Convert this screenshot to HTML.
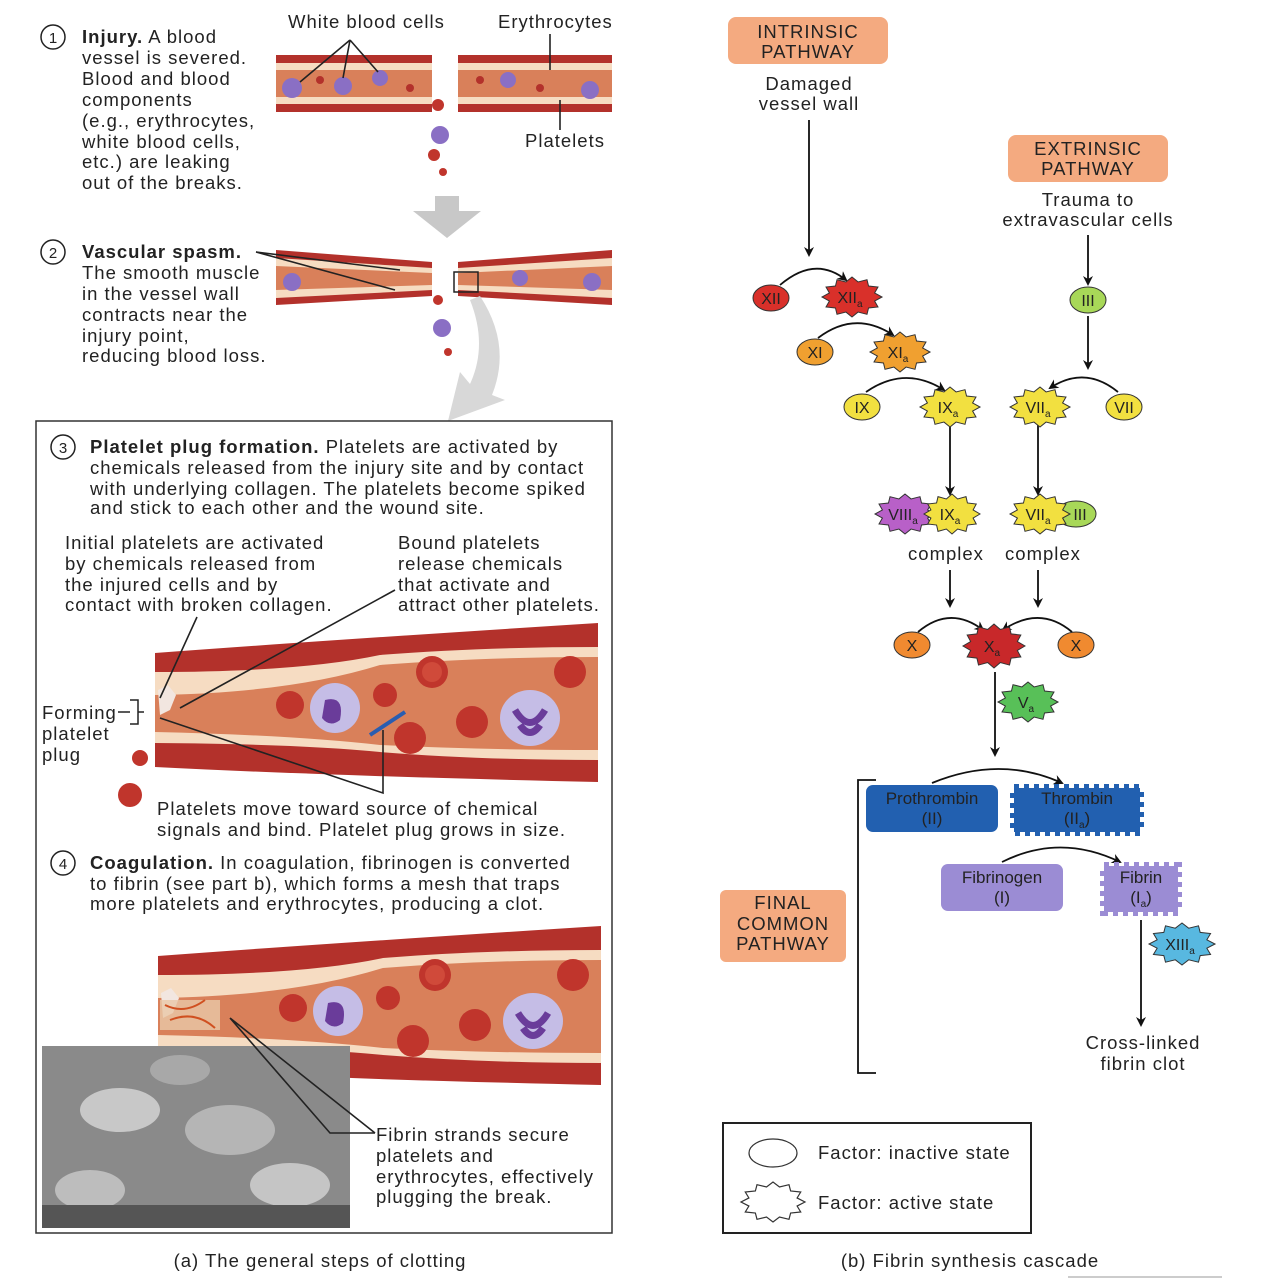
<!DOCTYPE html>
<html><head><meta charset="utf-8"><style>
body{margin:0;background:#fff;}
svg text{font-family:"Liberation Sans",sans-serif;fill:#222;}
.t{font-size:18.5px;letter-spacing:1px;}
</style></head><body>
<svg width="1288" height="1282" viewBox="0 0 1288 1282" xmlns="http://www.w3.org/2000/svg">
<defs>
<polygon id="st" vector-effect="non-scaling-stroke" points="1,0 .753,.202 .866,.5 .551,.551 .5,.866 .202,.753 0,1 -.202,.753 -.5,.866 -.551,.551 -.866,.5 -.753,.202 -1,0 -.753,-.202 -.866,-.5 -.551,-.551 -.5,-.866 -.202,-.753 0,-1 .202,-.753 .5,-.866 .551,-.551 .866,-.5 .753,-.202"/>
<marker id="ah" markerWidth="10" markerHeight="10" refX="8" refY="5" orient="auto" markerUnits="userSpaceOnUse"><path d="M0,0 L10,5 L0,10 L3,5z" fill="#111"/></marker>
<g id="bigv">
<path d="M155,653 Q330,640 598,623 L598,782 Q330,776 155,767z" fill="#b3312b"/>
<path d="M155,672 Q300,672 380,655 Q480,647 598,647 L598,760 Q480,760 380,752 Q300,744 155,743z" fill="#f6dcc2"/>
<path d="M155,695 Q290,693 380,665 Q480,657 598,657 L598,750 Q480,750 380,745 Q290,735 155,732z" fill="#d9805a"/>
<circle cx="432" cy="672" r="16" fill="#c0352c"/><circle cx="432" cy="672" r="10" fill="#d04a3a"/>
<circle cx="385" cy="695" r="12" fill="#c0352c"/>
<circle cx="290" cy="705" r="14" fill="#c0352c"/>
<circle cx="472" cy="722" r="16" fill="#c0352c"/>
<circle cx="410" cy="738" r="16" fill="#c0352c"/>
<circle cx="570" cy="672" r="16" fill="#c0352c"/>
<ellipse cx="335" cy="708" rx="25" ry="25" fill="#c5bde6"/><path d="M325,700 q20,-5 15,20 q-10,8 -18,-2" fill="#6a3c9a"/>
<ellipse cx="530" cy="718" rx="30" ry="28" fill="#c5bde6"/><path d="M515,710 q15,25 30,0 M520,725 q10,15 20,0" stroke="#6a3c9a" stroke-width="7" fill="none"/>
<path d="M158,690 l10,-5 l8,10 l-6,15 l-10,5z" fill="#f2e6e0"/>
</g>
</defs>

<!-- ===== LEFT PART ===== -->
<g class="t">
<circle cx="53" cy="37" r="12" fill="#fff" stroke="#222" stroke-width="1.5"/><text x="53" y="43" text-anchor="middle" font-size="15" letter-spacing="0">1</text>
<text x="82" y="43"><tspan font-weight="bold">Injury.</tspan> A blood</text>
<text x="82" y="64">vessel is severed.</text>
<text x="82" y="85">Blood and blood</text>
<text x="82" y="106">components</text>
<text x="82" y="127">(e.g., erythrocytes,</text>
<text x="82" y="148">white blood cells,</text>
<text x="82" y="168">etc.) are leaking</text>
<text x="82" y="189">out of the breaks.</text>
<text x="288" y="28">White blood cells</text>
<text x="498" y="28">Erythrocytes</text>
<text x="525" y="147">Platelets</text>
</g>
<g>
<rect x="276" y="55" width="156" height="57" fill="#b3312b"/><rect x="458" y="55" width="154" height="57" fill="#b3312b"/>
<rect x="276" y="63" width="156" height="41" fill="#f6dcc2"/><rect x="458" y="63" width="154" height="41" fill="#f6dcc2"/>
<rect x="276" y="70" width="156" height="27" fill="#d9805a"/><rect x="458" y="70" width="154" height="27" fill="#d9805a"/>
<circle cx="292" cy="88" r="10" fill="#8a6fc4"/><circle cx="343" cy="86" r="9" fill="#8a6fc4"/><circle cx="380" cy="78" r="8" fill="#8a6fc4"/><circle cx="508" cy="80" r="8" fill="#8a6fc4"/><circle cx="590" cy="90" r="9" fill="#8a6fc4"/>
<circle cx="320" cy="80" r="4" fill="#b3312b"/><circle cx="410" cy="88" r="4" fill="#b3312b"/><circle cx="540" cy="88" r="4" fill="#b3312b"/><circle cx="480" cy="80" r="4" fill="#b3312b"/>
<circle cx="438" cy="105" r="6" fill="#c0352c"/><circle cx="440" cy="135" r="9" fill="#8a6fc4"/><circle cx="434" cy="155" r="6" fill="#c0352c"/><circle cx="443" cy="172" r="4" fill="#c0352c"/>
<path d="M350,40 L300,82 M350,40 L343,78 M350,40 L378,72 M550,34 L550,70 M560,100 L560,130" stroke="#222" stroke-width="1.6"/>
</g>
<path d="M435,196 h24 v15 h22 l-34,27 l-34,-27 h22z" fill="#c8c8c8"/>
<g class="t">
<circle cx="53" cy="252" r="12" fill="#fff" stroke="#222" stroke-width="1.5"/><text x="53" y="258" text-anchor="middle" font-size="15" letter-spacing="0">2</text>
<text x="82" y="258" font-weight="bold">Vascular spasm.</text>
<text x="82" y="279">The smooth muscle</text>
<text x="82" y="300">in the vessel wall</text>
<text x="82" y="321">contracts near the</text>
<text x="82" y="342">injury point,</text>
<text x="82" y="362">reducing blood loss.</text>
</g>
<g>
<path d="M276,250 L432,262 L432,296 L276,305z" fill="#b3312b"/><path d="M458,262 L612,250 L612,305 L458,296z" fill="#b3312b"/>
<path d="M276,258 L432,268 L432,290 L276,298z" fill="#f6dcc2"/><path d="M458,268 L612,258 L612,298 L458,290z" fill="#f6dcc2"/>
<path d="M276,266 L432,273 L432,285 L276,290z" fill="#d9805a"/><path d="M458,273 L612,266 L612,290 L458,285z" fill="#d9805a"/>
<circle cx="292" cy="282" r="9" fill="#8a6fc4"/><circle cx="520" cy="278" r="8" fill="#8a6fc4"/><circle cx="592" cy="282" r="9" fill="#8a6fc4"/>
<circle cx="438" cy="300" r="5" fill="#c0352c"/><circle cx="442" cy="328" r="9" fill="#8a6fc4"/><circle cx="448" cy="352" r="4" fill="#c0352c"/>
<rect x="454" y="272" width="24" height="20" fill="none" stroke="#222" stroke-width="1.5"/>
<path d="M256,252 L400,270 M256,252 L395,290" stroke="#222" stroke-width="1.6"/>
</g>
<path d="M480,296 Q512,345 492,395 L505,400 L448,421 L460,372 L470,384 Q488,345 470,300z" fill="#d8d8d8"/>

<rect x="36" y="421" width="576" height="812" fill="#fff" stroke="#333" stroke-width="1.5"/>
<g class="t">
<circle cx="63" cy="447" r="12" fill="#fff" stroke="#222" stroke-width="1.5"/><text x="63" y="453" text-anchor="middle" font-size="15" letter-spacing="0">3</text>
<text x="90" y="453"><tspan font-weight="bold">Platelet plug formation.</tspan> Platelets are activated by</text>
<text x="90" y="474">chemicals released from the injury site and by contact</text>
<text x="90" y="495">with underlying collagen. The platelets become spiked</text>
<text x="90" y="514">and stick to each other and the wound site.</text>
<text x="65" y="549">Initial platelets are activated</text>
<text x="65" y="570">by chemicals released from</text>
<text x="65" y="591">the injured cells and by</text>
<text x="65" y="611">contact with broken collagen.</text>
<text x="398" y="549">Bound platelets</text>
<text x="398" y="570">release chemicals</text>
<text x="398" y="591">that activate and</text>
<text x="398" y="611">attract other platelets.</text>
<text x="42" y="719">Forming</text>
<text x="42" y="740">platelet</text>
<text x="42" y="761">plug</text>
<text x="157" y="815">Platelets move toward source of chemical</text>
<text x="157" y="836">signals and bind. Platelet plug grows in size.</text>
<circle cx="63" cy="863" r="12" fill="#fff" stroke="#222" stroke-width="1.5"/><text x="63" y="869" text-anchor="middle" font-size="15" letter-spacing="0">4</text>
<text x="90" y="869"><tspan font-weight="bold">Coagulation.</tspan> In coagulation, fibrinogen is converted</text>
<text x="90" y="890">to fibrin (see part b), which forms a mesh that traps</text>
<text x="90" y="910">more platelets and erythrocytes, producing a clot.</text>
</g>
<use href="#bigv"/>
<circle cx="140" cy="758" r="8" fill="#c0352c"/><circle cx="130" cy="795" r="12" fill="#c0352c"/>
<path d="M118,712 h12 M130,700 h8 v24 h-8 M138,712 h6" stroke="#222" stroke-width="1.5" fill="none"/>
<path d="M197,617 L160,698 M395,590 L180,708 M160,718 L383,793 L383,730" stroke="#222" stroke-width="1.6" fill="none"/>
<path d="M370,735 L405,712" stroke="#2a5db0" stroke-width="4"/>
<use href="#bigv" transform="translate(3,303)"/>
<path d="M160,1000 h60 v30 h-60z" fill="#e8c8a8" opacity=".8"/>
<path d="M165,1005 q20,10 40,-5 M170,1020 q25,-10 45,8" stroke="#d05020" stroke-width="2" fill="none"/>
<rect x="42" y="1046" width="308" height="182" fill="#8a8a8a"/>
<ellipse cx="120" cy="1110" rx="40" ry="22" fill="#c8c8c8"/><ellipse cx="230" cy="1130" rx="45" ry="25" fill="#b5b5b5"/><ellipse cx="90" cy="1190" rx="35" ry="20" fill="#bdbdbd"/><ellipse cx="290" cy="1185" rx="40" ry="22" fill="#c5c5c5"/><ellipse cx="180" cy="1070" rx="30" ry="15" fill="#a8a8a8"/>
<rect x="42" y="1205" width="308" height="23" fill="#555"/>
<path d="M230,1018 L375,1133 M230,1018 L330,1133 L375,1133" stroke="#222" stroke-width="1.6" fill="none"/>
<g class="t">
<text x="376" y="1141">Fibrin strands secure</text>
<text x="376" y="1162">platelets and</text>
<text x="376" y="1183">erythrocytes, effectively</text>
<text x="376" y="1203">plugging the break.</text>
<text x="320" y="1267" text-anchor="middle">(a) The general steps of clotting</text>
</g>

<!-- ===== RIGHT PART ===== -->
<g class="t" text-anchor="middle">
<rect x="728" y="17" width="160" height="47" rx="8" fill="#f4aa80"/>
<text x="808" y="38">INTRINSIC</text><text x="808" y="58">PATHWAY</text>
<text x="809" y="90">Damaged</text><text x="809" y="110">vessel wall</text>
<rect x="1008" y="135" width="160" height="47" rx="8" fill="#f4aa80"/>
<text x="1088" y="155">EXTRINSIC</text><text x="1088" y="175">PATHWAY</text>
<text x="1088" y="206">Trauma to</text><text x="1088" y="226">extravascular cells</text>
<rect x="720" y="890" width="126" height="72" rx="6" fill="#f4aa80"/>
<text x="783" y="909">FINAL</text><text x="783" y="930">COMMON</text><text x="783" y="950">PATHWAY</text>
<text x="946" y="560">complex</text><text x="1043" y="560">complex</text>
<text x="1143" y="1049">Cross-linked</text><text x="1143" y="1070">fibrin clot</text>
<text x="970" y="1267">(b) Fibrin synthesis cascade</text>
</g>
<g stroke="#111" stroke-width="1.8" fill="none">
<path d="M809,120 V255" marker-end="url(#ah)"/>
<path d="M1088,235 V284" marker-end="url(#ah)"/>
<path d="M1088,316 V368" marker-end="url(#ah)"/>
<path d="M950,425 V494" marker-end="url(#ah)"/>
<path d="M1038,425 V494" marker-end="url(#ah)"/>
<path d="M950,570 V606" marker-end="url(#ah)"/>
<path d="M1038,570 V606" marker-end="url(#ah)"/>
<path d="M995,672 V755" marker-end="url(#ah)"/>
<path d="M1141,920 V1025" marker-end="url(#ah)"/>
<path d="M780,285 Q815,255 846,280" marker-end="url(#ah)"/>
<path d="M818,338 Q855,310 893,335" marker-end="url(#ah)"/>
<path d="M866,392 Q905,365 944,390" marker-end="url(#ah)"/>
<path d="M1118,392 Q1085,365 1050,388" marker-end="url(#ah)"/>
<path d="M918,632 Q950,605 983,630" marker-end="url(#ah)"/>
<path d="M1072,632 Q1040,605 1003,630" marker-end="url(#ah)"/>
<path d="M932,783 Q1000,755 1062,783" marker-end="url(#ah)"/>
<path d="M1002,862 Q1060,833 1120,862" marker-end="url(#ah)"/>
<path d="M876,780 H858 V1073 H876"/>
</g>
<g font-size="16" text-anchor="middle">
<ellipse cx="771" cy="298" rx="18" ry="13" fill="#d9302a" stroke="#333"/><text x="771" y="304" fill="#fff">XII</text>
<use href="#st" transform="translate(852,297) scale(30,20)" fill="#d9302a" stroke="#333" stroke-width="1"/><text x="850" y="303" fill="#fff">XII<tspan font-size="10" dy="4">a</tspan></text>
<ellipse cx="815" cy="352" rx="18" ry="13" fill="#f0a030" stroke="#333"/><text x="815" y="358">XI</text>
<use href="#st" transform="translate(900,352) scale(30,20)" fill="#f0a030" stroke="#333" stroke-width="1"/><text x="898" y="358">XI<tspan font-size="10" dy="4">a</tspan></text>
<ellipse cx="862" cy="407" rx="18" ry="13" fill="#f2e040" stroke="#333"/><text x="862" y="413">IX</text>
<use href="#st" transform="translate(950,407) scale(30,20)" fill="#f2e040" stroke="#333" stroke-width="1"/><text x="948" y="413">IX<tspan font-size="10" dy="4">a</tspan></text>
<use href="#st" transform="translate(1040,407) scale(30,20)" fill="#f2e040" stroke="#333" stroke-width="1"/><text x="1038" y="413">VII<tspan font-size="10" dy="4">a</tspan></text>
<ellipse cx="1124" cy="407" rx="18" ry="13" fill="#f2e040" stroke="#333"/><text x="1124" y="413">VII</text>
<ellipse cx="1088" cy="300" rx="18" ry="13" fill="#a8d858" stroke="#333"/><text x="1088" y="306">III</text>
<use href="#st" transform="translate(905,514) scale(30,20)" fill="#b860c8" stroke="#333" stroke-width="1"/><text x="903" y="520" fill="#fff">VIII<tspan font-size="10" dy="4">a</tspan></text>
<use href="#st" transform="translate(952,514) scale(28,20)" fill="#f2e040" stroke="#333" stroke-width="1"/><text x="950" y="520">IX<tspan font-size="10" dy="4">a</tspan></text>
<ellipse cx="1076" cy="514" rx="20" ry="13" fill="#a8d858" stroke="#333"/><text x="1080" y="520">III</text>
<use href="#st" transform="translate(1040,514) scale(30,20)" fill="#f2e040" stroke="#333" stroke-width="1"/><text x="1038" y="520">VII<tspan font-size="10" dy="4">a</tspan></text>
<ellipse cx="912" cy="645" rx="18" ry="13" fill="#f08a30" stroke="#333"/><text x="912" y="651" fill="#fff">X</text>
<use href="#st" transform="translate(994,646) scale(31,22)" fill="#c8282a" stroke="#333" stroke-width="1"/><text x="992" y="652" fill="#fff">X<tspan font-size="10" dy="4">a</tspan></text>
<ellipse cx="1076" cy="645" rx="18" ry="13" fill="#f08a30" stroke="#333"/><text x="1076" y="651" fill="#fff">X</text>
<use href="#st" transform="translate(1028,702) scale(30,20)" fill="#58c058" stroke="#333" stroke-width="1"/><text x="1026" y="708" fill="#fff">V<tspan font-size="10" dy="4">a</tspan></text>
<rect x="866" y="785" width="132" height="47" rx="7" fill="#2260b0"/>
<text x="932" y="804" fill="#fff" font-size="17">Prothrombin</text><text x="932" y="824" fill="#fff" font-size="17">(II)</text>
<rect x="1014" y="788" width="126" height="44" fill="#2260b0" stroke="#2260b0" stroke-width="8" stroke-dasharray="5 5"/>
<text x="1077" y="804" fill="#fff" font-size="17">Thrombin</text><text x="1077" y="824" fill="#fff" font-size="17">(II<tspan font-size="10" dy="4">a</tspan><tspan dy="-4">)</tspan></text>
<rect x="941" y="864" width="122" height="47" rx="7" fill="#9b8cd4"/>
<text x="1002" y="883" fill="#fff" font-size="17">Fibrinogen</text><text x="1002" y="903" fill="#fff" font-size="17">(I)</text>
<rect x="1104" y="866" width="74" height="46" fill="#9b8cd4" stroke="#9b8cd4" stroke-width="8" stroke-dasharray="5 5"/>
<text x="1141" y="883" fill="#fff" font-size="17">Fibrin</text><text x="1141" y="903" fill="#fff" font-size="17">(I<tspan font-size="10" dy="4">a</tspan><tspan dy="-4">)</tspan></text>
<use href="#st" transform="translate(1182,944) scale(33,21)" fill="#58b8e0" stroke="#333" stroke-width="1"/><text x="1180" y="950" fill="#fff">XIII<tspan font-size="10" dy="4">a</tspan></text>
</g>
<rect x="723" y="1123" width="308" height="110" fill="#fff" stroke="#222" stroke-width="2"/>
<ellipse cx="773" cy="1153" rx="24" ry="14" fill="#fff" stroke="#333" stroke-width="1.2"/>
<use href="#st" transform="translate(773,1202) scale(32,20)" fill="#fff" stroke="#333" stroke-width="1.2"/>
<g class="t">
<text x="818" y="1159">Factor: inactive state</text>
<text x="818" y="1209">Factor: active state</text>
</g>
<line x1="1068" y1="1277" x2="1222" y2="1277" stroke="#999"/>
</svg>
</body></html>
